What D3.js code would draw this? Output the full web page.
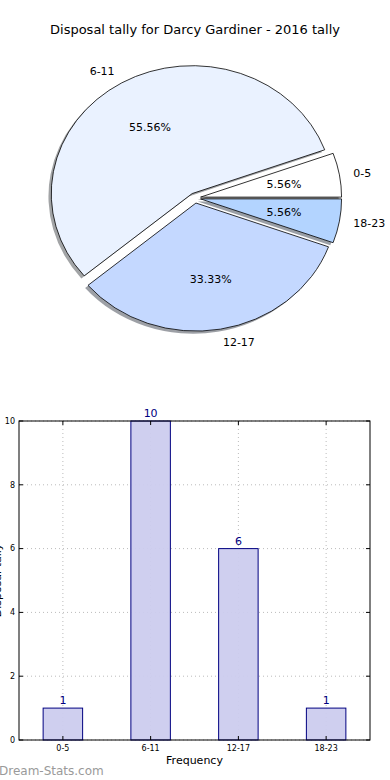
<!DOCTYPE html>
<html>
<head>
<meta charset="utf-8">
<script src="https://cdn.jsdelivr.net/npm/d3@7"></script>
<style>
  html, body { margin: 0; padding: 0; background: #fff; }
  svg { display: block; font-family: "DejaVu Sans", sans-serif; }
</style>
</head>
<body>
<svg id="chart" width="390" height="780"></svg>
<script>
const title = "Disposal tally for Darcy Gardiner - 2016 tally";
const categories = ["0-5", "6-11", "12-17", "18-23"];
const values = [1, 10, 6, 1];
const pieColors = ["#ffffff", "#eaf2ff", "#c4d8ff", "#b3d4ff"];
const yTicks = [0, 2, 4, 6, 8, 10];
const xLabel = "Frequency";
const yLabel = "Disposal tally";
const watermark = "Dream-Stats.com";

(function () {
const svg = d3.select("#chart");

// Title
svg.append("text").attr("x", 195).attr("y", 34).attr("text-anchor", "middle")
  .attr("font-size", 13).attr("fill", "#000").text(title);

// ---------- PIE ----------
const cx = 195, cy = 198, rx = 141, ry = 128, explode = 0.04;
const total = d3.sum(values);
const pie = d3.pie().sort(null).startAngle(Math.PI / 2).endAngle(Math.PI / 2 - 2 * Math.PI);
const arcs = pie(values);
const unitArc = d3.arc().innerRadius(0).outerRadius(1);

const pieG = svg.append("g");
function offsetOf(d) {
  const m = (d.startAngle + d.endAngle) / 2;
  return [explode * rx * Math.sin(m), -explode * ry * Math.cos(m)];
}
// shadows
arcs.forEach((d, i) => {
  const [ox, oy] = offsetOf(d);
  const c = d3.rgb(pieColors[i]);
  pieG.append("path")
    .attr("d", unitArc(d))
    .attr("transform", `translate(${cx + ox - 0.02 * rx},${cy + oy + 0.02 * ry}) scale(${rx},${ry})`)
    .attr("fill", d3.rgb(c.r * 0.3, c.g * 0.3, c.b * 0.3))
    .attr("fill-opacity", 0.5)
    .attr("stroke", "none");
});
// wedges
arcs.forEach((d, i) => {
  const [ox, oy] = offsetOf(d);
  pieG.append("path")
    .attr("d", unitArc(d))
    .attr("transform", `translate(${cx + ox},${cy + oy}) scale(${rx},${ry})`)
    .attr("fill", pieColors[i])
    .attr("stroke", "#000")
    .attr("stroke-width", 0.8)
    .attr("vector-effect", "non-scaling-stroke")
    .attr("stroke-linejoin", "round");
});
// labels
arcs.forEach((d, i) => {
  const [ox, oy] = offsetOf(d);
  const m = (d.startAngle + d.endAngle) / 2;
  const sx = Math.sin(m), cyy = -Math.cos(m);
  const lx = cx + ox + 1.1 * rx * sx, ly = cy + oy + 1.1 * ry * cyy;
  pieG.append("text").attr("x", lx).attr("y", ly).attr("dy", "0.35em")
    .attr("text-anchor", sx > 0 ? "start" : "end")
    .attr("font-size", 11).attr("fill", "#000").text(categories[i]);
  const px = cx + ox + 0.6 * rx * sx, py = cy + oy + 0.6 * ry * cyy;
  pieG.append("text").attr("x", px).attr("y", py).attr("dy", "0.35em")
    .attr("text-anchor", "middle")
    .attr("font-size", 11).attr("fill", "#000")
    .text((values[i] / total * 100).toFixed(2) + "%");
});

// ---------- BAR ----------
const pLeft = 19, pRight = 370, pTop = 421, pBottom = 740;
const x = d3.scaleLinear().domain([-0.5, categories.length - 0.5]).range([pLeft, pRight]);
const y = d3.scaleLinear().domain([0, 10]).range([pBottom, pTop]);
const barW = 0.45;
const g = svg.append("g");

// grid
g.selectAll(".hg").data(yTicks).join("line")
  .attr("x1", pLeft).attr("x2", pRight)
  .attr("y1", d => y(d)).attr("y2", d => y(d))
  .attr("stroke", "#bbb").attr("stroke-width", 1).attr("stroke-dasharray", "1,3");
g.selectAll(".vg").data(categories).join("line")
  .attr("x1", (d, i) => x(i)).attr("x2", (d, i) => x(i))
  .attr("y1", pTop).attr("y2", pBottom)
  .attr("stroke", "#bbb").attr("stroke-width", 1).attr("stroke-dasharray", "1,3");

// bars
g.selectAll(".bar").data(values).join("rect")
  .attr("x", (d, i) => x(i - barW / 2))
  .attr("width", x(barW) - x(0))
  .attr("y", d => y(d))
  .attr("height", d => pBottom - y(d))
  .attr("fill", "#ccccee").attr("fill-opacity", 0.95)
  .attr("stroke", "#000080").attr("stroke-width", 1);

// value labels
g.selectAll(".vl").data(values).join("text")
  .attr("x", (d, i) => x(i)).attr("y", d => y(d) - 4)
  .attr("text-anchor", "middle").attr("font-size", 11).attr("fill", "#000080")
  .text(d => d);

// frame
g.append("rect").attr("x", pLeft).attr("y", pTop).attr("width", pRight - pLeft).attr("height", pBottom - pTop)
  .attr("fill", "none").attr("stroke", "#000").attr("stroke-width", 1);

// ticks (inward)
yTicks.forEach(t => {
  g.append("line").attr("x1", pLeft).attr("x2", pLeft + 4).attr("y1", y(t)).attr("y2", y(t)).attr("stroke", "#000");
  g.append("line").attr("x1", pRight - 4).attr("x2", pRight).attr("y1", y(t)).attr("y2", y(t)).attr("stroke", "#000");
  g.append("text").attr("x", pLeft - 4).attr("y", y(t)).attr("dy", "0.35em")
    .attr("text-anchor", "end").attr("font-size", 8).attr("fill", "#000").text(t);
});
categories.forEach((c, i) => {
  g.append("line").attr("x1", x(i)).attr("x2", x(i)).attr("y1", pBottom).attr("y2", pBottom - 4).attr("stroke", "#000");
  g.append("line").attr("x1", x(i)).attr("x2", x(i)).attr("y1", pTop).attr("y2", pTop + 4).attr("stroke", "#000");
  g.append("text").attr("x", x(i)).attr("y", pBottom + 11)
    .attr("text-anchor", "middle").attr("font-size", 8).attr("fill", "#000").text(c);
});

svg.append("text").attr("x", (pLeft + pRight) / 2).attr("y", 764).attr("text-anchor", "middle")
  .attr("font-size", 11).attr("fill", "#000").text(xLabel);
svg.append("text").attr("transform", `translate(0.5,${(pTop + pBottom) / 2}) rotate(-90)`)
  .attr("text-anchor", "middle").attr("font-size", 11).attr("fill", "#000").text(yLabel);

svg.append("text").attr("x", -1).attr("y", 775).attr("font-size", 12)
  .attr("fill", "#9a9a9a").text(watermark);
})();
</script>
</body>
</html>
